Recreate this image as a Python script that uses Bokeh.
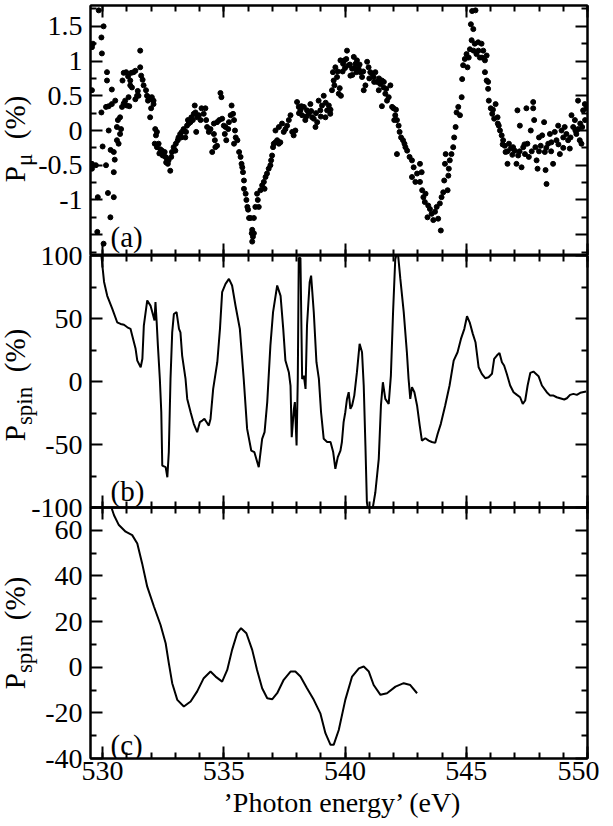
from bokeh.plotting import figure
from bokeh.models import LinearAxis, FixedTicker, Range1d, Label, Div
from bokeh.layouts import column
from bokeh.embed import file_html
from bokeh.resources import INLINE

# ---------------- data ----------------
x_major = [530, 535, 540, 545, 550]
x_minor = list(range(530, 551))

a_major = [-1.5, -1, -0.5, 0, 0.5, 1, 1.5]
a_minor = [-1.75, -1.25, -0.75, -0.25, 0.25, 0.75, 1.25, 1.75]
a_tick_labels = ["", "-1", "-0.5", "0", "0.5", "1", "1.5"]

b_major = [-100, -50, 0, 50, 100]
b_minor = [-75, -25, 25, 75]
b_tick_labels = ["-100", "-50", "0", "50", "100"]

c_major = [-40, -20, 0, 20, 40, 60]
c_minor = [-30, -10, 10, 30, 50, 70]
c_tick_labels = ["-40", "-20", "0", "20", "40", "60"]

a_x = [529.84, 530.04, 529.95, 529.56, 529.60, 529.97, 529.56, 529.95, 530.18, 530.18, 530.38, 530.14,
       530.25, 530.38, 530.52, 530.25, 530.00, 529.56, 529.56, 529.72, 530.14, 530.33, 530.46, 530.46,
       530.50, 529.80, 530.22, 530.46, 530.32, 529.78, 530.04, 530.59, 530.63, 530.72, 530.59, 530.72,
       530.66, 530.76, 530.80, 530.87, 530.93, 531.00, 531.10, 531.07, 530.82, 530.87, 530.97, 531.05,
       531.14, 531.14, 531.21, 531.18, 531.28, 531.35, 531.42, 531.35, 531.48, 531.45, 531.55, 531.55,
       531.59, 531.65, 531.69, 531.79, 531.83, 531.89, 531.96, 531.87, 532.03, 532.10, 532.00, 531.96,
       532.10, 532.17, 532.24, 532.20, 532.15, 532.24, 532.31, 532.38, 532.45, 532.34, 532.48, 532.56,
       532.59, 532.66, 532.62, 532.72, 532.79, 532.69, 532.83, 532.86, 532.93, 533.00, 533.02, 533.10,
       533.13, 533.20, 533.27, 533.24, 533.34, 533.41, 533.44, 533.48, 533.55, 533.52, 533.62, 533.66,
       533.72, 533.76, 533.80, 533.83, 533.86, 533.90, 533.97, 534.04, 534.08, 534.17, 534.24, 534.27,
       534.31, 534.38, 534.45, 534.52, 534.59, 534.63, 534.65, 534.72, 534.59, 534.72, 534.81, 534.86,
       534.90, 534.93, 535.00, 535.07, 535.04, 535.10, 535.18, 535.21, 535.28, 535.32, 535.38, 535.42,
       535.46, 535.49, 535.42, 535.56, 535.63, 535.69, 535.73, 535.76, 535.79, 535.83, 535.83, 535.90,
       535.93, 535.97, 536.00, 536.04, 536.10, 536.17, 536.20, 536.15, 536.24, 536.30, 536.37,
       536.24, 536.17, 536.44, 536.40, 536.51, 536.58, 536.65, 536.72, 536.68, 536.78, 536.85, 536.92,
       536.95, 536.99, 537.03, 537.06, 537.13, 537.20, 537.27, 537.33, 537.13, 537.27, 537.40, 537.47,
       537.54, 537.61, 537.68, 537.75, 537.82, 537.88, 537.95, 538.02, 538.09, 538.16, 538.23, 538.30,
       538.36, 538.43, 538.50, 538.57, 538.64, 538.71, 538.78, 538.85, 538.91, 538.98, 539.05, 539.12,
       539.19, 539.26, 539.33, 539.39, 539.46, 539.53, 539.50, 539.56, 539.60, 539.67, 539.74, 539.78,
       539.83, 539.81, 539.92, 539.97, 540.08, 540.05, 540.15, 540.22, 540.29, 540.36, 540.43, 540.49,
       540.47, 540.56, 540.63, 540.70, 540.77, 540.84, 540.91, 540.97, 541.04, 541.11, 541.18, 541.25,
       541.32, 541.39, 541.45, 541.52, 541.59, 541.66, 541.73, 541.52, 541.80, 541.87, 541.94, 542.00,
       542.07, 542.03, 542.14, 542.21, 542.14, 542.25, 542.31, 542.39, 542.45, 542.49, 542.56, 542.66,
       542.76, 542.83, 542.76, 542.90, 542.97,
       543.09, 543.16, 543.09, 543.18, 543.23, 543.29, 543.32, 543.40, 543.43, 543.50, 543.57, 543.64,
       543.71, 543.78, 543.84, 543.91, 543.95, 543.98, 544.05, 544.09, 544.12, 544.15, 544.23, 544.26,
       544.28, 544.32, 544.39, 544.46, 544.50, 544.56, 544.60, 544.67, 544.74, 544.81, 544.83, 544.87,
       544.94, 545.01, 545.05, 545.15, 545.19, 545.24, 545.38, 545.29, 545.22, 545.35, 545.42, 545.49,
       545.56, 545.63, 545.70, 545.77, 545.84, 545.77, 545.84, 545.90, 545.93, 546.01, 546.07, 546.15,
       546.21, 546.29, 546.34, 546.39, 546.46, 546.52, 546.59, 546.62, 546.70, 546.76, 546.84, 546.93,
       547.00, 547.07, 547.11, 547.14, 547.21, 547.28, 547.35, 547.42, 547.48, 547.52, 547.58, 547.66,
       547.76, 547.76, 547.80, 547.85, 547.90, 547.94, 548.00, 548.07, 548.13, 548.21, 548.24, 548.27,
       548.31, 548.38, 548.45, 548.51, 548.58, 548.65, 548.72, 548.79, 548.86, 548.93, 549.00, 549.06,
       549.13, 549.20, 549.27, 549.34, 549.41, 549.48, 549.54, 549.61, 549.68, 549.75, 549.78, 549.82,
       549.89, 549.96, 549.61,
       538.10, 538.20, 538.40, 538.60, 538.80, 539.00, 539.20, 539.40, 539.70, 539.90, 540.00, 540.20,
       540.30, 540.40, 540.60, 540.75, 541.00, 541.20, 541.40, 541.60, 541.70, 542.10, 545.10, 545.30,
       545.50, 545.65, 545.90, 546.10, 546.30, 546.50, 546.70, 546.90, 547.20, 547.40, 547.70, 548.00,
       548.30, 548.50, 548.80, 549.00, 549.30, 549.50, 549.70, 549.90]
a_y = [1.73, 1.50, 1.34, 1.20, 1.25, 1.11, 0.58, 0.26, 0.84, 0.72, 0.59, 0.34,
       0.35, 0.38, 0.43, 0.00, -0.23, -0.48, -0.55, -0.50, -0.50, -0.28, -0.31, -0.60,
       -0.42, -0.96, -0.90, -0.96, -1.25, -1.46, -1.63, 0.05, 0.15, 0.19, -0.14, -0.05,
       -0.19, 0.02, 0.34, 0.39, 0.43, 0.36, 0.35, 0.48, 0.72, 0.83, 0.84, 0.78,
       0.72, 0.65, 0.62, 0.83, 0.84, 0.86, 0.50, 0.45, 0.50, 0.57, 1.15, 0.91,
       0.79, 0.73, 0.65, 0.58, 0.50, 0.48, 0.45, 0.43, 0.48, 0.43, 0.32, 0.19,
       0.38, 0.02, -0.02, -0.07, -0.19, -0.24, -0.19, -0.27, -0.29, -0.33, -0.36, -0.31,
       -0.38, -0.41, -0.46, -0.43, -0.58, -0.48, -0.38, -0.31, -0.24, -0.29, -0.19, -0.14,
       -0.10, -0.05, -0.02, -0.10, 0.02, -0.10, -0.02, 0.07, 0.10, 0.15, 0.12, 0.19,
       0.15, 0.24, 0.36, 0.26, -0.02, 0.19, 0.22, 0.15, 0.32, 0.24, 0.32, 0.15,
       0.05, -0.02, 0.02, -0.31, -0.05, -0.14, -0.24, -0.22, 0.10, 0.12, 0.15, 0.54,
       0.48, 0.17, 0.07, 0.05, -0.05, -0.14, 0.02, 0.12, 0.22, 0.36, 0.24, 0.15,
       0.00, -0.10, -0.19, -0.14, -0.31, -0.38, -0.48, -0.53, -0.60, -0.72, -0.84, -0.91,
       -1.00, -1.10, -1.14, -1.26, -1.26, -1.43, -1.53, -1.48, -1.26, -1.10, -0.91,
       -1.48, -1.60, -1.10, -1.00, -0.86, -0.79, -0.74, -0.67, -0.84, -0.62, -0.55, -0.50,
       -0.43, -0.36, -0.24, -0.19, -0.17, -0.14, -0.19, -0.17, 0.00, 0.05, 0.10, -0.02,
       0.02, 0.07, 0.15, 0.22, -0.02, -0.07, 0.00, 0.41, 0.34, 0.29, 0.22, 0.34,
       0.15, 0.29, 0.24, 0.38, 0.19, 0.17, 0.05, 0.12, 0.43, 0.29, 0.36, 0.50,
       0.19, 0.29, 0.36, 0.24, 0.58, 0.72, 0.84, 0.65, 0.91, 0.77, 0.53, 0.61,
       0.50, 1.01, 0.96, 1.01, 1.15, 1.03, 0.94, 0.79, 0.89, 1.06, 0.96, 1.01,
       0.84, 0.89, 0.84, 0.77, 0.58, 0.65, 0.99, 0.91, 0.84, 0.82, 0.77, 0.84,
       0.70, 0.58, 0.67, 0.72, 0.62, 0.53, 0.43, 0.35, 0.48, 0.65, 0.34, 0.32,
       0.22, 0.15, 0.15, 0.07, -0.34, -0.02, -0.10, -0.14, -0.19, -0.24, -0.29, -0.38,
       -0.43, -0.53, -0.67, -0.74, -0.62,
       -0.48, -0.60, -0.74, -0.86, -0.96, -1.03, -0.91, -1.25, -1.08, -1.13, -1.20, -1.29,
       -1.17, -1.10, -1.27, -1.05, -1.44, -0.96, -0.89, -0.72, -0.48, -0.34, -0.86, -0.65,
       -0.55, -0.43, -0.34, -0.24, -0.10, 0.05, 0.26, 0.34, 0.22, 0.48, 0.74, 0.94,
       1.03, 1.10, 0.91, 1.17, 1.53, 1.72, 1.73, 1.46, 1.30, 1.25, 1.10, 1.27,
       1.05, 1.25, 1.15, 1.01, 1.08, 0.84, 0.72, 0.60, 0.43, 0.32, 0.24, 0.17,
       0.38, 0.19, 0.07, 0.00, -0.07, -0.14, -0.22, -0.31, -0.48, -0.19, -0.26, -0.24,
       -0.29, -0.48, 0.29, -0.36, 0.07, -0.53, -0.24, -0.34, 0.32, -0.19, -0.38, 0.00,
       0.41, 0.32, 0.15, -0.24, -0.43, -0.55, -0.10, -0.22, -0.07, 0.12, -0.31, -0.57,
       -0.77, -0.19, -0.05, -0.17, -0.48, -0.02, -0.14, 0.07, -0.34, 0.00, -0.10, 0.05,
       -0.05, -0.14, -0.26, 0.22, 0.05, 0.15, -0.05, 0.02, -0.14, -0.19, 0.05, 0.29,
       0.38, 0.32, 0.43,
       0.25, 0.35, 0.20, 0.28, 0.25, 0.20, 0.40, 0.30, 0.85, 0.85, 0.90, 0.95,
       0.80, 0.90, 0.95, 0.85, 0.75, 0.70, 0.75, 0.70, 0.60, 0.30, 1.05, 1.15,
       1.15, 1.05, 0.70, 0.30, 0.10, -0.20, -0.30, -0.35, -0.30, -0.20, -0.30, -0.30,
       -0.25, -0.30, -0.20, -0.25, -0.10, 0.00, 0.10, 0.15]

b_x = [529.85, 529.95, 529.99, 530.06, 530.19, 530.40, 530.60, 530.74, 530.88, 531.02, 531.15, 531.22,
       531.36, 531.43, 531.57, 531.64, 531.70, 531.84, 531.98, 532.05, 532.14, 532.18, 532.23, 532.28,
       532.36, 532.42, 532.46, 532.60, 532.67, 532.73, 532.80, 532.87, 532.94, 533.05, 533.15, 533.21,
       533.28, 533.42, 533.49, 533.63, 533.76, 533.90, 534.01, 534.11, 534.20, 534.29, 534.38, 534.45,
       534.56, 534.73, 534.84, 534.93, 535.07, 535.21, 535.34, 535.48, 535.66, 535.82, 535.96, 536.13,
       536.26, 536.44, 536.58, 536.68, 536.79, 536.92, 537.03, 537.20, 537.34, 537.45, 537.54, 537.68,
       537.75, 537.80, 537.89, 537.93, 538.00, 538.05, 538.09, 538.16, 538.23, 538.30, 538.37, 538.43,
       538.54, 538.60, 538.71, 538.82, 538.92, 539.01, 539.12, 539.26, 539.40, 539.51, 539.60, 539.70,
       539.81, 539.87, 539.94, 540.01, 540.08, 540.15, 540.22, 540.29, 540.38, 540.49, 540.60, 540.70,
       540.77, 540.84, 540.90, 540.97, 541.11, 541.25, 541.39, 541.48, 541.56, 541.66, 541.80, 541.89,
       541.98, 542.07, 542.17, 542.28, 542.42, 542.55, 542.62, 542.69, 542.76, 542.86, 542.97, 543.08,
       543.17, 543.31, 543.45, 543.58, 543.72, 543.82, 543.95, 544.13, 544.31, 544.48, 544.64, 544.78,
       544.92, 545.03, 545.14, 545.27, 545.38, 545.51, 545.64, 545.78, 545.92, 546.06, 546.15, 546.26,
       546.37, 546.47, 546.56, 546.67, 546.81, 546.95, 547.09, 547.22, 547.33, 547.43, 547.53, 547.64,
       547.77, 547.98, 548.12, 548.32, 548.46, 548.60, 548.73, 548.87, 549.04, 549.15, 549.28, 549.42,
       549.56, 549.70, 549.94]
b_y = [106, 100, 92, 79, 68, 57.6, 47, 45.7, 45, 43, 41.8, 36.5,
       25.9, 16.6, 11.3, 18, 44.4, 64.3, 60, 55, 48.4, 63, 47, 28.5,
       2, -24.4, -66.7, -68, -76, -56, 2, 39, 53.6, 55, 41.8, 39,
       20.6, 2, -13.8, -24.4, -33.6, -40.2, -32.3, -31, -29.7, -32.3, -35, -29.7,
       -5.9, 15.3, 41.8, 70.9, 77.5, 81.4, 76.2, 60.3, 41.8, 2, -37.6, -54.8,
       -56.1, -68, -45.5, -40.2, -16.4, 28.5, 55, 76.2, 68, 41.8, 16.6, 7.4,
       -3.2, -44.2, -21.7, -16.4, -50.8, 2, 98, 98, 2, 4.7, -5.9, 44.4,
       78.8, 84, 55, 15.3, 2, -24.4, -45.5, -48, -48, -56, -69.3, -60,
       -54.8, -48, -32.3, -24.4, -13.8, -8.5, -21.7, -19, -11.2, 7.4, 29.9, 23.2,
       -3.2, -50.8, -95.8, -104, -104, -87.9, -61.4, -19, -0.6, -13.8, -17.8, 4.7,
       55, 97, 104, 81.4, 55, 23.2, 2, -13.8, -4.5, -8.5, -19, -35,
       -46.9, -45, -46.9, -48, -48.7, -41.5, -33.6, -19, -3.2, 16.6, 23.2, 33.8,
       41.8, 51.8, 47, 37.8, 31.2, 11.3, 6.1, 2.6, 3.4, 6.1, 18, 20.6,
       22.7, 15.3, 12.7, 6.1, -3.2, -8.5, -10.6, -12.5, -17.8, -15.1, -3.2, 6.8,
       7.9, 4.2, -3.2, -8.5, -11.2, -11.2, -12.5, -13.3, -14.3, -13.3, -10.6, -9.8,
       -10.6, -9.0, -8.0]

c_x = [530.30, 530.47, 530.67, 530.95, 531.22, 531.43, 531.63, 531.84, 532.12, 532.39, 532.60, 532.73,
       532.87, 533.08, 533.35, 533.63, 533.90, 534.17, 534.45, 534.66, 534.93, 535.14, 535.34, 535.55,
       535.71, 535.93, 536.17, 536.37, 536.58, 536.79, 537.00, 537.20, 537.47, 537.75, 537.95, 538.16,
       538.43, 538.71, 538.98, 539.19, 539.40, 539.53, 539.74, 540.01, 540.29, 540.57, 540.77, 540.98,
       541.18, 541.46, 541.73, 542.08, 542.42, 542.69, 542.97]
c_y = [72, 66.6, 62.3, 59.4, 57.9, 54.2, 45.5, 35.3, 26.5, 18.5, 10.5, 1.8,
       -7, -14.3, -17.2, -15, -10.6, -4.8, -1.9, -4.1, -6.3, -1.2, 7.6, 14.9,
       17.1, 14.9, 7.6, -1.2, -9.2, -13.6, -14, -11.4, -5.5, -1.9, -1.9, -4.1,
       -9.2, -14.3, -20.2, -28.9, -34, -34, -27.5, -14.3, -4.1, -0.5, 0.3, -1.9,
       -7.8, -12.1, -11.4, -8.5, -7, -7.8, -11.4]

panel_tags = ["(a)", "(b)", "(c)"]
x_title = "\u2019Photon energy\u2019 (eV)"
ylab_sub = ["\u03bc", "spin", "spin"]

# ---------------- layout geometry (page pixels) ----------------
X0, X1 = 529.5, 550.0
FL, FW = 90, 497
A_TOP, A_H, A_LO, A_HI = 5, 250, -1.8, 1.8
B_TOP, B_H, B_LO, B_HI = 255, 252, -100.0, 100.0
C_TOP, C_H, C_LO, C_HI = 507, 251, -40.0, 70.0
OV_W, OV_H = 605, 824
PAD = 16

FONT = "Liberation Serif"


def sx(px):
    return X0 + (px - FL) * (X1 - X0) / FW


def sy(py, top, h, lo, hi):
    return hi - (py - top) * (hi - lo) / h


xr = Range1d(X0, X1)


def style_axis(ax, major, minor, labels, size="28px"):
    ax.ticker = FixedTicker(ticks=major, minor_ticks=minor)
    ax.axis_line_width = 2
    ax.axis_line_color = "black"
    ax.major_tick_line_width = 2
    ax.minor_tick_line_width = 2
    ax.major_tick_in = 12
    ax.major_tick_out = 0
    ax.minor_tick_in = 6
    ax.minor_tick_out = 0
    ax.major_label_text_font = FONT
    ax.major_label_text_font_size = size
    ax.major_label_text_color = "black"
    if labels is None:
        ax.major_label_overrides = {t: "" for t in major}
        ax.major_label_standoff = 0
    else:
        ax.major_label_overrides = {t: l for t, l in zip(major, labels)}


def make_panel(lo, hi, fh, btop, bbot, ymaj, ymin, ylabels, xlabels, shift):
    p = figure(x_range=xr, y_range=Range1d(lo, hi), frame_width=FW, frame_height=fh,
               output_backend="svg", toolbar_location=None,
               min_border_left=FL, min_border_right=12,
               min_border_top=btop, min_border_bottom=bbot,
               background_fill_alpha=0, border_fill_alpha=0,
               styles={"margin-top": "%dpx" % shift})
    p.grid.visible = False
    p.outline_line_color = "black"
    p.outline_line_width = 2
    style_axis(p.xaxis[0], x_major, x_minor, xlabels)
    p.xaxis[0].major_label_standoff = 3 if xlabels is not None else 0
    style_axis(p.yaxis[0], ymaj, ymin, ylabels)
    p.yaxis[0].major_label_standoff = 8
    top = LinearAxis()
    style_axis(top, x_major, x_minor, None)
    p.add_layout(top, "above")
    right = LinearAxis()
    style_axis(right, ymaj, ymin, None)
    p.add_layout(right, "right")
    return p


pa = make_panel(A_LO, A_HI, A_H, A_TOP, 0, a_major, a_minor, a_tick_labels, None, -OV_H)
pb = make_panel(B_LO, B_HI, B_H, PAD, PAD, b_major, b_minor, b_tick_labels, None, -PAD)
pc = make_panel(C_LO, C_HI, C_H, PAD, OV_H - C_TOP - C_H, c_major, c_minor, c_tick_labels,
                [str(v) for v in x_major], -2 * PAD)

pa.scatter(a_x, a_y, size=5, color="black", marker="circle")
pb.line(b_x, b_y, line_width=2, color="black")
pc.line(c_x, c_y, line_width=2, color="black")

for p, tag, by, g in [(pa, panel_tags[0], 236, (A_TOP, A_H, A_LO, A_HI)),
                      (pb, panel_tags[1], 490, (B_TOP, B_H, B_LO, B_HI)),
                      (pc, panel_tags[2], 744, (C_TOP, C_H, C_LO, C_HI))]:
    top, h, lo, hi = g
    p.add_layout(Label(x=sx(110), y=sy(by, top, h, lo, hi), text=tag, text_font=FONT,
                       text_font_size="29px", text_align="left", text_baseline="alphabetic",
                       text_color="black"))

# ---------------- texts outside the frames (axis titles with subscripts) ----------------
ylab_cy = [139, 385, 633]   # centre of each vertical title, page pixels
ST = "font-family:Liberation Serif,serif;font-style:normal;fill:#000000;font-size:%dpx"
parts = []
for cy, sub in zip(ylab_cy, ylab_sub):
    parts.append(
        '<text transform="translate(25,%d) rotate(-90)" text-anchor="middle" style="%s">'
        'P<tspan dy="7" style="%s">%s</tspan><tspan dy="-7" style="%s">&#160;&#160;(%%)</tspan></text>'
        % (cy, ST % 29, ST % 23, sub, ST % 29))
parts.append('<text x="342" y="812" text-anchor="middle" style="%s">%s</text>' % (ST % 28, x_title))
svg = ('<svg xmlns="http://www.w3.org/2000/svg" width="%d" height="%d" style="display:block">%s</svg>'
       % (OV_W, OV_H, "".join(parts)))
titles = Div(text=svg, width=OV_W, height=OV_H, margin=0)

layout = column(titles, pa, pb, pc, spacing=0)

open("out.html", "w").write(file_html(layout, INLINE))
